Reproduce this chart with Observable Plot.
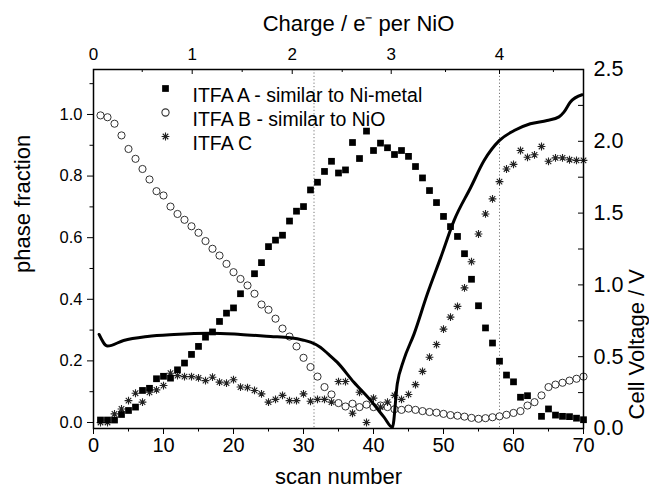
<!DOCTYPE html>
<html><head><meta charset="utf-8">
<script src="https://cdn.jsdelivr.net/npm/d3@7"></script>
<script src="https://cdn.jsdelivr.net/npm/@observablehq/plot@0.6"></script>
<style>body{margin:0;background:#fff}#chart{width:649px;height:495px}</style>
</head><body><div id="chart"></div>
<script>
// ITFA A - similar to Ni-metal (filled squares)
const scanA = [1,2,3,4,5,6,7,8,9,10,11,12,13,14,15,16,17,18,19,20,21,23,24,25,26,27,28,29,30,31,32,33,34,35,36,37,38,39,40,41,42,43,44,45,46,47,48,49,50,51,52,53,54,55,56,57,58,59,60,61,62,64,65,66,67,68,69,70];
const fracA = [0.008,0.008,0.008,0.026,0.039,0.05,0.104,0.111,0.142,0.15,0.144,0.171,0.193,0.221,0.247,0.277,0.294,0.328,0.355,0.372,0.418,0.483,0.519,0.571,0.592,0.608,0.654,0.686,0.701,0.755,0.78,0.815,0.848,0.81,0.82,0.909,0.857,0.946,0.883,0.907,0.892,0.87,0.883,0.864,0.831,0.794,0.753,0.714,0.669,0.636,0.604,0.548,0.465,0.379,0.307,0.258,0.199,0.154,0.132,0.082,0.087,0.02,0.044,0.024,0.02,0.019,0.014,0.009];
// ITFA B - similar to NiO (open circles)
const scanB = [1,2,3,4,5,6,7,8,9,10,11,12,13,14,15,16,17,18,19,20,21,22,23,24,25,26,27,28,29,30,31,32,33,34,35,36,37,38,39,40,41,42,43,44,45,46,47,48,49,50,51,52,53,54,55,56,57,58,59,60,61,62,63,64,65,66,67,68,69,70];
const fracB = [0.997,0.991,0.97,0.932,0.888,0.856,0.823,0.789,0.751,0.737,0.701,0.677,0.658,0.637,0.616,0.589,0.564,0.542,0.515,0.488,0.466,0.445,0.418,0.383,0.366,0.337,0.305,0.279,0.247,0.21,0.18,0.149,0.115,0.091,0.063,0.052,0.061,0.05,0.058,0.05,0.055,0.05,0.043,0.041,0.045,0.041,0.037,0.034,0.032,0.028,0.024,0.022,0.019,0.015,0.012,0.014,0.017,0.02,0.025,0.031,0.037,0.055,0.066,0.088,0.115,0.123,0.129,0.136,0.142,0.149];
// ITFA C (stars)
const scanC = [1,2,3,4,5,6,7,8,9,10,11,12,13,14,15,16,17,18,19,20,21,22,23,24,25,26,27,28,29,30,31,32,33,34,35,36,37,38,39,40,41,42,43,44,45,46,47,48,49,50,51,52,53,54,55,56,57,58,59,60,61,62,63,64,65,66,67,68,69,70];
const fracC = [0.0,0.0,0.028,0.044,0.071,0.095,0.066,0.098,0.106,0.12,0.16,0.152,0.149,0.149,0.145,0.136,0.147,0.131,0.128,0.139,0.115,0.113,0.104,0.093,0.066,0.075,0.088,0.071,0.071,0.093,0.069,0.075,0.075,0.066,0.133,0.133,0.03,0.098,0.0,0.079,0.05,0.066,0.088,0.075,0.091,0.123,0.166,0.212,0.253,0.303,0.342,0.377,0.437,0.522,0.612,0.677,0.726,0.782,0.823,0.838,0.883,0.861,0.869,0.896,0.848,0.859,0.859,0.853,0.851,0.851];
// Cell voltage (line, right axis)
const voltScan = [0.8,2,4.3,7.7,11.5,16.7,21,25.3,28.1,30,31,32.4,33.5,34.8,37.2,39.6,41.5,42.7,43.4,44.3,45.8,47.7,49.6,51.5,53.9,55.8,58,60.1,62.4,64.8,66.5,67.2,68.1,69.8];
const voltValue = [0.655,0.574,0.613,0.641,0.655,0.664,0.655,0.641,0.632,0.615,0.601,0.566,0.52,0.462,0.322,0.195,0.079,0.008,0.311,0.474,0.659,0.938,1.19,1.448,1.68,1.866,2.006,2.075,2.122,2.145,2.17,2.203,2.272,2.324];
// Markers (vertical dotted lines)
const markerScans = [31.5, 58];
// Axis ticks
const leftTicks = [0,0.2,0.4,0.6,0.8,1.0];
const leftMinorTicks = [0.1,0.3,0.5,0.7,0.9,1.1];
const bottomTicks = [0,10,20,30,40,50,60,70];
const bottomMinorTicks = [5,15,25,35,45,55,65];
const voltTicks = [0,0.5,1.0,1.5,2.0,2.5];
const voltMinorTicks = [0.25,0.75,1.25,1.75,2.25];
const chargeLabels = ["0","1","2","3","4"];
const chargeTickScan = [0,14.1,28.39,42.53,58];          // scan number at charge 0,1,2,3,4
const chargeMinorTickScan = [6.96,21.24,35.53,50.29,65.7]; // charge 0.5 ... 4.5
const legendLabels = ["ITFA A - similar to Ni-metal","ITFA B - similar to NiO","ITFA C"];

const W = 649, H = 495, mL = 93, mR = 66, mT = 69, mB = 67;
const fw = W - mL - mR, fh = H - mT - mB;
const yMin = -0.0195, yMax = 1.146, vMax = 2.5;
const vToY = v => yMin + v / vMax * (yMax - yMin);

const A = scanA.map((s, i) => ({s, f: fracA[i]}));
const B = scanB.map((s, i) => ({s, f: fracB[i]}));
const C = scanC.map((s, i) => ({s, f: fracC[i]}));
const V = voltScan.map((s, i) => ({s, v: voltValue[i]}));

const star = {draw(ctx, size) {
  const r = Math.sqrt(size / Math.PI), d = r * Math.SQRT1_2;
  ctx.moveTo(0, -r); ctx.lineTo(0, r);
  ctx.moveTo(-r, 0); ctx.lineTo(r, 0);
  ctx.moveTo(-d, -d); ctx.lineTo(d, d);
  ctx.moveTo(-d, d); ctx.lineTo(d, -d);
}};

const legendSymbols = ["square", "circle", star];
const legendFill = ["black", "white", "none"];
const legendStroke = ["none", "#333", "#222"];
const legendR = [3.8, 3.6, 3.9];

const font = "'Liberation Sans', Arial, sans-serif";
const legendMarks = legendLabels.flatMap((lab, i) => [
  Plot.dot([lab], {frameAnchor: "top-left", dx: 72, dy: 19 + 24 * i, symbol: legendSymbols[i], r: legendR[i], fill: legendFill[i], stroke: legendStroke[i], strokeWidth: 1.1}),
  Plot.text([lab], {frameAnchor: "top-left", dx: 99, dy: 19 + 24 * i, text: d => d, textAnchor: "start", fontSize: 19.5})
]);

const chart = Plot.plot({
  width: W, height: H,
  marginLeft: mL, marginRight: mR, marginTop: mT, marginBottom: mB,
  style: {fontFamily: font, color: "#000", background: "#fff", overflow: "visible"},
  x: {domain: [0, 70]},
  y: {domain: [yMin, yMax]},
  marks: [
    Plot.ruleX(markerScans, {x: d => d, stroke: "#777", strokeDasharray: "1.2,2.2", strokeWidth: 1}),
    Plot.dot(B, {x: "s", y: "f", symbol: "circle", r: 3.6, fill: "white", stroke: "#333", strokeWidth: 1}),
    Plot.dot(C, {x: "s", y: "f", symbol: star, r: 3.9, fill: "none", stroke: "#222", strokeWidth: 1.1}),
    Plot.dot(A, {x: "s", y: "f", symbol: "square", r: 3.8, fill: "black", stroke: "none"}),
    Plot.line(V, {x: "s", y: d => vToY(d.v), stroke: "black", strokeWidth: 3, curve: "monotone-x"}),
    Plot.frame({stroke: "black", strokeWidth: 1.5}),
    // left axis
    Plot.axisY(leftTicks, {anchor: "left", tickSize: 6, tickPadding: 5, tickFormat: d3.format(".1f"), fontSize: 16.5, label: null}),
    Plot.axisY(leftMinorTicks, {anchor: "left", tickSize: 3.5, tickFormat: () => "", label: null}),
    // bottom axis
    Plot.axisX(bottomTicks, {anchor: "bottom", tickSize: 6, tickPadding: 3, tickFormat: d => String(d), fontSize: 20, label: null}),
    Plot.axisX(bottomMinorTicks, {anchor: "bottom", tickSize: 3.5, tickFormat: () => "", label: null}),
    // right axis (voltage) - inward ticks
    Plot.tickY(voltTicks, {y: d => vToY(d), insetLeft: fw - 5, stroke: "black"}),
    Plot.tickY(voltMinorTicks, {y: d => vToY(d), insetLeft: fw - 5, stroke: "black"}),
    Plot.text(voltTicks, {y: d => vToY(d), text: d => d.toFixed(1), frameAnchor: "right", textAnchor: "start", dx: 10, fontSize: 21.5}),
    // top axis (charge) - inward ticks
    Plot.tickX(chargeTickScan, {x: d => d, insetBottom: fh - 5, stroke: "black"}),
    Plot.tickX(chargeMinorTickScan, {x: d => d, insetBottom: fh - 3, stroke: "black"}),
    Plot.text(chargeTickScan, {x: d => d, text: (d, i) => chargeLabels[i], frameAnchor: "top", dy: -22, fontSize: 17}),
    // axis titles
    Plot.text(["phase fraction"], {frameAnchor: "left", dx: -71, dy: 24, rotate: -90, fontSize: 22}),
    Plot.text(["Cell Voltage / V"], {frameAnchor: "right", dx: 53, dy: 20, rotate: -90, fontSize: 22}),
    Plot.text(["scan number"], {frameAnchor: "bottom", dy: 55, fontSize: 22}),
    Plot.text(["Charge / e\u207B per NiO"], {frameAnchor: "top", dx: 20, dy: -54, fontSize: 22}),
    ...legendMarks
  ]
});
document.getElementById("chart").appendChild(chart);
</script>
</body></html>
